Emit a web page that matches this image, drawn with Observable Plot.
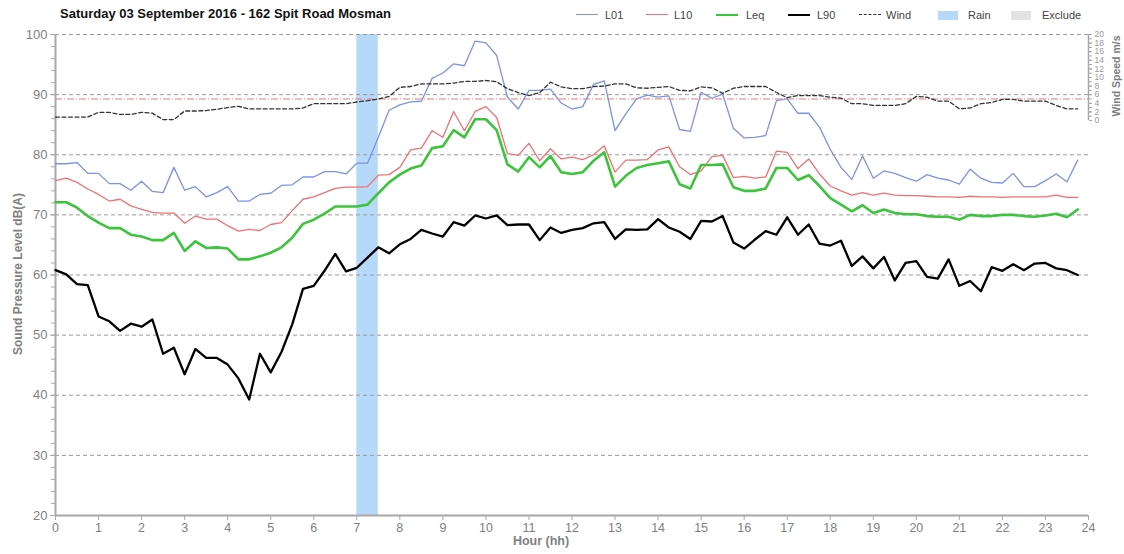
<!DOCTYPE html>
<html><head><meta charset="utf-8">
<script src="https://cdn.jsdelivr.net/npm/d3@7"></script>
<script src="https://cdn.jsdelivr.net/npm/@observablehq/plot@0.6"></script>
<style>
html,body{margin:0;padding:0;background:#fff;}
body{font-family:"Liberation Sans",Arial,sans-serif;}
#wrap{position:relative;width:1124px;height:554px;overflow:hidden;}
#chart{position:absolute;left:0;top:0;}
#title{position:absolute;left:60px;top:6px;font-weight:bold;font-size:13px;color:#111;white-space:nowrap;}
.lg{position:absolute;top:9px;font-size:11px;color:#444;white-space:nowrap;}
.sw{position:absolute;}
.ax{position:absolute;font-weight:bold;color:#808080;white-space:nowrap;}
</style></head>
<body><div id="wrap"><div id="chart"></div></div>
<script>
// ---------- data ----------
const chartTitle = "Saturday 03 September 2016 - 162 Spit Road Mosman";
const startHour = 0, stepHours = 0.25;   // 15-minute intervals
const L01 = [
 78.5,78.5,78.7,76.9, 76.9,75.2,75.2,74.1, 75.6,73.9,73.7,77.9, 74.1,74.7,73.0,73.7,
 74.7,72.3,72.3,73.4, 73.6,74.9,75.0,76.3, 76.3,77.2,77.2,76.8, 78.6,78.6,82.9,87.4,
 88.3,88.8,88.9,92.7, 93.6,95.1,94.8,98.9, 98.6,96.5,89.6,87.6, 90.7,90.7,90.9,88.6,
 87.6,88.0,91.7,92.3, 84.0,86.8,89.3,89.9, 89.6,89.8,84.2,83.9, 90.4,89.4,90.1,84.4,
 82.8,82.9,83.2,89.0, 89.3,86.9,86.9,84.6, 80.9,77.9,75.9,79.8, 76.1,77.3,76.9,76.2,
 75.6,76.7,76.1,75.8, 75.1,77.6,76.1,75.4, 75.3,76.9,74.7,74.7, 75.7,76.8,75.5,79.1];
const L10 = [
 75.7,76.1,75.4,74.3, 73.4,72.3,72.6,71.5, 70.9,70.4,70.3,70.3, 68.6,69.8,69.3,69.3,
 68.2,67.3,67.6,67.4, 68.4,68.7,70.7,72.6, 73.0,73.7,74.4,74.6, 74.6,74.7,76.6,76.7,
 77.9,80.8,81.1,84.0, 82.9,87.2,84.0,87.2, 88.0,86.2,80.2,79.9, 81.9,79.0,81.0,79.3,
 79.6,79.2,80.0,81.5, 77.1,79.1,79.1,79.2, 80.8,81.3,78.0,76.7, 77.3,79.7,79.9,76.2,
 76.4,76.1,76.3,80.6, 80.4,77.7,79.3,76.8, 74.8,74.0,73.3,73.7, 73.3,73.6,73.3,73.2,
 73.2,73.1,73.0,73.0, 72.9,73.1,73.0,73.0, 72.9,73.0,73.0,73.0, 73.0,73.3,72.9,72.9];
const Leq = [
 72.1,72.1,71.2,69.8, 68.7,67.8,67.8,66.7, 66.4,65.8,65.8,67.0, 64.0,65.6,64.5,64.6,
 64.4,62.6,62.6,63.1, 63.7,64.6,66.2,68.5, 69.2,70.2,71.4,71.4, 71.4,71.7,73.6,75.4,
 76.7,77.7,78.2,81.1, 81.4,84.1,82.9,85.9, 85.9,84.1,78.4,77.2, 79.6,77.9,79.8,77.1,
 76.8,77.1,79.0,80.4, 74.7,76.5,77.8,78.3, 78.6,78.9,75.1,74.4, 78.3,78.3,78.4,74.6,
 74.0,74.0,74.4,77.8, 77.8,75.8,76.6,74.8, 72.8,71.7,70.6,71.6, 70.3,70.9,70.3,70.1,
 70.1,69.8,69.7,69.7, 69.2,70.0,69.8,69.8, 70.0,70.0,69.8,69.7, 69.9,70.2,69.6,70.9];
const L90 = [
 60.8,60.1,58.5,58.3, 53.1,52.3,50.7,51.9, 51.4,52.6,46.9,47.9, 43.5,47.7,46.2,46.2,
 45.1,42.8,39.3,46.9, 43.8,47.2,51.8,57.7, 58.2,60.7,63.5,60.6, 61.2,62.9,64.6,63.6,
 65.1,66.0,67.5,66.9, 66.4,68.8,68.2,69.9, 69.4,69.9,68.3,68.4, 68.4,65.8,67.9,67.0,
 67.5,67.8,68.6,68.8, 66.0,67.6,67.5,67.6, 69.3,67.9,67.2,66.0, 69.0,68.9,69.8,65.4,
 64.4,65.9,67.3,66.7, 69.6,66.7,68.4,65.2, 64.9,65.7,61.5,63.1, 61.1,63.0,59.1,62.0,
 62.3,59.7,59.4,62.6, 58.2,59.0,57.3,61.3, 60.7,61.8,60.8,61.9, 62.0,61.1,60.8,60.0];
const windSpeed = [ // m/s
 0.8,0.8,0.8,0.8, 1.9,1.9,1.4,1.4, 1.9,1.7,0.2,0.2, 2.2,2.2,2.3,2.6,
 3.0,3.3,2.7,2.7, 2.7,2.7,2.7,2.9, 3.9,3.9,3.9,3.9, 4.3,4.6,5.0,5.6,
 7.7,7.9,8.5,8.5, 8.5,8.7,9.1,9.1, 9.3,9.0,7.4,6.5, 5.8,6.5,8.9,7.8,
 7.4,7.4,7.9,8.0, 8.5,8.5,7.6,7.5, 7.7,7.9,7.0,6.9, 7.8,7.6,6.3,7.5,
 7.9,7.9,7.9,6.5, 5.3,5.8,5.8,5.8, 5.4,5.2,3.9,3.9, 3.5,3.5,3.5,3.9,
 5.6,5.4,4.5,4.5, 2.7,2.9,3.9,4.2, 4.9,4.9,4.5,4.5, 4.5,3.5,2.7,2.7];
const windLimit = [5];            // m/s threshold line
const rainStart = [7], rainEnd = [7.5];
const seriesNames = ["L01","L10","Leq","L90","Wind","Rain","Exclude"];
const xTicks = d3.range(0, 25, 1);
const yTicks = [20,30,40,50,60,70,80,90,100];
const windTicks = [0,2,4,6,8,10,12,14,16,18,20];

// ---------- helpers ----------
const hours = L01.map((_, i) => startHour + i * stepHours);
const W0 = 85.7, WK = 0.715;   // wind axis (0..20 m/s) mapped onto upper band of dB scale
const toDb = v => W0 + v * WK;
const rows = s => hours.map((t, i) => ({t, v: s[i]}));
const rain = rainStart.map((s, i) => ({s, e: rainEnd[i]}));

const styles = {
  L01: {stroke:"#7d92e4", strokeWidth:1.3},
  L10: {stroke:"#ef7171", strokeWidth:1.3},
  Leq: {stroke:"#3cc43c", strokeWidth:2.6},
  L90: {stroke:"#000000", strokeWidth:2.3},
  Wind:{stroke:"#333333", strokeWidth:1.3, strokeDasharray:"4,2.5"}
};

const plot = Plot.plot({
  width: 1124, height: 554,
  marginLeft: 55, marginRight: 36, marginTop: 34, marginBottom: 39,
  x: {domain: [0, 24]},
  y: {domain: [20, 100]},
  style: {fontFamily: '"Liberation Sans", Arial, sans-serif', background: "#fff", overflow: "visible"},
  marks: [
    Plot.rect(rain, {x1: "s", x2: "e", y1: 20, y2: 100, fill: "#b6d9fa"}),
    Plot.ruleY(yTicks.filter(d => d > 20), {stroke: "#9a9a9a", strokeDasharray: "4,3", strokeWidth: 1}),
    Plot.ruleY(windLimit.map(toDb), {stroke: "#e27a7a", strokeDasharray: "7,2,1,2", strokeWidth: 1}),
    Plot.axisY(d3.range(20, 101, 2), {anchor: "left", tickSize: 4, tickFormat: () => "", stroke: "#aaa", label: null}),
    Plot.axisY(yTicks, {anchor: "left", tickSize: 5, tickPadding: 3, fontSize: 13, fill: "#7f7f7f", stroke: "#aaa", label: null}),
    Plot.axisX(xTicks, {anchor: "bottom", tickSize: 5, tickPadding: 3, fontSize: 12.5, fill: "#808080", stroke: "#aaa", label: null}),
    Plot.axisY(d3.range(0, 21, 1).map(toDb), {anchor: "right", tickSize: 3, tickFormat: () => "", stroke: "#aaa", label: null}),
    Plot.axisY(windTicks.map(toDb), {anchor: "right", tickSize: 3, tickPadding: 3, fontSize: 8.5, fill: "#999",
      stroke: "#aaa", tickFormat: d => String(Math.round((d - W0) / WK)), label: null}),
    Plot.ruleX([0], {stroke: "#a8a8a8", strokeWidth: 2}),
    Plot.ruleY([20], {stroke: "#a8a8a8", strokeWidth: 2}),
    Plot.ruleX([24], {y1: toDb(0), y2: 100, stroke: "#a8a8a8", strokeWidth: 1.5}),
    Plot.line(rows(L01), {x: "t", y: "v", ...styles.L01}),
    Plot.line(rows(L10), {x: "t", y: "v", ...styles.L10}),
    Plot.line(rows(Leq), {x: "t", y: "v", ...styles.Leq}),
    Plot.line(rows(L90), {x: "t", y: "v", ...styles.L90}),
    Plot.line(rows(windSpeed.map(toDb)), {x: "t", y: "v", ...styles.Wind})
  ]
});
const wrap = document.getElementById("wrap");
document.getElementById("chart").appendChild(plot);

// ---------- title, legend, axis titles (HTML overlay) ----------
function add(cls, text, css) {
  const d = document.createElement("div");
  d.className = cls; if (text != null) d.textContent = text;
  Object.assign(d.style, css); wrap.appendChild(d); return d;
}
add("", chartTitle, {}).id = "title";
const legendLayout = [
  {sw: 576, lb: 605, kind: "line", color: "#7d92e4", w: 1.5},
  {sw: 646, lb: 674, kind: "line", color: "#ef7171", w: 1.5},
  {sw: 716, lb: 746, kind: "line", color: "#3cc43c", w: 2.5},
  {sw: 788, lb: 817, kind: "line", color: "#000", w: 2.5},
  {sw: 859, lb: 886, kind: "dash", color: "#333", w: 1.3},
  {sw: 938, lb: 968, kind: "rect", color: "#b6d9fa"},
  {sw: 1011, lb: 1042, kind: "rect", color: "#e3e3e3"}
];
seriesNames.forEach((name, i) => {
  const L = legendLayout[i];
  if (L.kind === "rect") {
    add("sw", null, {left: L.sw + "px", top: "11px", width: "20px", height: "9px", background: L.color});
  } else {
    add("sw", null, {left: L.sw + "px", top: (15 - L.w / 2) + "px", width: "22px", height: "0px",
      borderTop: L.w + "px " + (L.kind === "dash" ? "dashed " : "solid ") + L.color});
  }
  add("lg", name, {left: L.lb + "px"});
});
add("ax", "Sound Pressure Level dB(A)", {fontSize: "12px", left: "18px", top: "274px",
  transform: "translate(-50%,-50%) rotate(-90deg)"});
add("ax", "Hour (hh)", {fontSize: "12.5px", left: "541px", top: "541px", transform: "translate(-50%,-50%)"});
add("ax", "Wind Speed m/s", {fontSize: "10.5px", left: "1116px", top: "76px",
  transform: "translate(-50%,-50%) rotate(-90deg)"});
</script></body></html>
